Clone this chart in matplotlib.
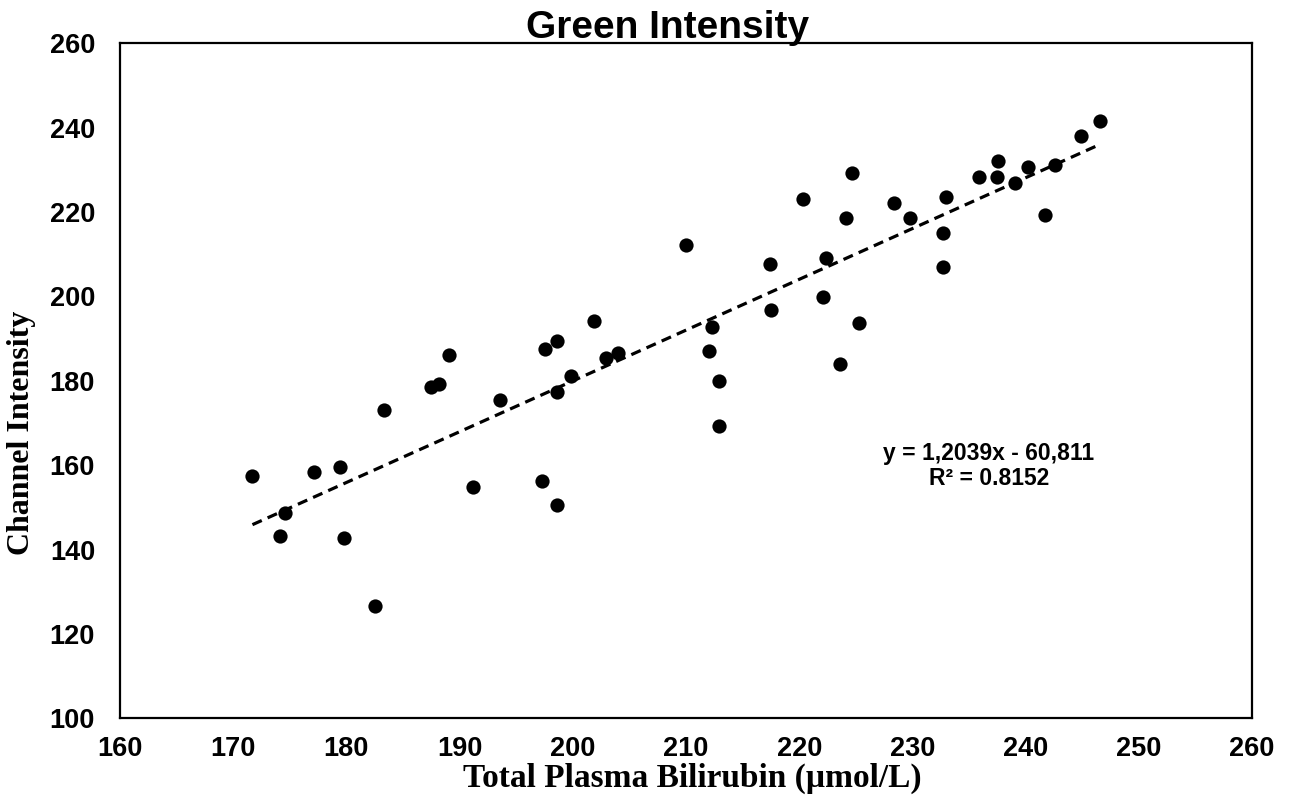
import numpy as np
import matplotlib
matplotlib.use("Agg")
import matplotlib.pyplot as plt

# Data
bilirubin = [171.7, 174.1, 174.6, 177.1, 179.4, 179.8, 182.5, 183.3, 187.5, 188.2,
             189.1, 191.2, 193.6, 197.5, 198.6, 201.9, 199.8, 198.6, 202.9, 204.0,
             197.3, 198.6, 210.0, 217.4, 217.5, 220.3, 224.7, 224.1, 222.4, 222.1,
             225.3, 223.6, 212.3, 212.0, 212.9, 212.9, 228.4, 229.8, 233.0, 232.7,
             232.7, 235.9, 237.6, 237.5, 239.1, 240.2, 242.6, 241.7, 244.9, 246.6]
intensity = [157.5, 143.2, 148.6, 158.3, 159.5, 142.7, 126.6, 173.1, 178.6, 179.2,
             186.1, 154.9, 175.4, 187.5, 189.5, 194.2, 181.2, 177.3, 185.5, 186.5,
             156.2, 150.5, 212.2, 207.7, 196.9, 223.0, 229.2, 218.5, 209.2, 199.8,
             193.6, 184.1, 192.8, 187.1, 179.9, 169.4, 222.1, 218.5, 223.6, 215.0,
             207.0, 228.2, 232.2, 228.2, 226.8, 230.7, 231.1, 219.3, 238.1, 241.6]
slope = 1.2039
intercept = -60.811
equation_text = "y = 1,2039x - 60,811\nR² = 0.8152"
x_ticks = [160, 170, 180, 190, 200, 210, 220, 230, 240, 250, 260]
y_ticks = [100, 120, 140, 160, 180, 200, 220, 240, 260]

W, H = 1291, 807
fig = plt.figure(figsize=(W / 100, H / 100), dpi=100)
ax = fig.add_axes([120 / W, 1 - 718.3 / H, (1252 - 120) / W, (718.3 - 43.3) / H])

ax.scatter(bilirubin, intensity, s=105, color="black", zorder=3, linewidths=0)

xfit = np.array([min(bilirubin), max(bilirubin)])
ax.plot(xfit, slope * xfit + intercept, color="black", lw=2.3,
        linestyle=(0, (3.2, 2.0)), zorder=2)

ax.set_xlim(160, 260)
ax.set_ylim(100, 260)
ax.set_xticks(x_ticks)
ax.set_yticks(y_ticks)
ax.set_xticklabels([str(t) for t in x_ticks], family="Liberation Sans",
                   fontweight="bold", fontsize=19.5)
ax.set_yticklabels([str(t) for t in y_ticks], family="Liberation Sans",
                   fontweight="bold", fontsize=19.5)
ax.tick_params(axis="x", length=0, pad=13)
ax.tick_params(axis="y", length=0, pad=18)
for sp in ax.spines.values():
    sp.set_color("black")
    sp.set_linewidth(1.6)

ax.text(989 / W, 1 - 466 / H, equation_text, transform=fig.transFigure,
        ha="center", va="center", family="Liberation Sans", fontweight="bold",
        fontsize=16.5, linespacing=1.1, multialignment="center")

fig.text(668 / W, 1 - 38 / H, "Green Intensity", ha="center", va="baseline",
         family="Liberation Sans", fontweight="bold", fontsize=28)
fig.text(692 / W, 1 - 778 / H, "Total Plasma Bilirubin (µmol/L)", ha="center",
         va="center", family="Liberation Serif", fontweight="bold", fontsize=24)
fig.text(22 / W, 1 - 433 / H, "Channel Intensity", ha="center", va="center",
         rotation=90, family="Liberation Serif", fontweight="bold", fontsize=23)

fig.savefig("out.png", dpi=100, facecolor="white")
